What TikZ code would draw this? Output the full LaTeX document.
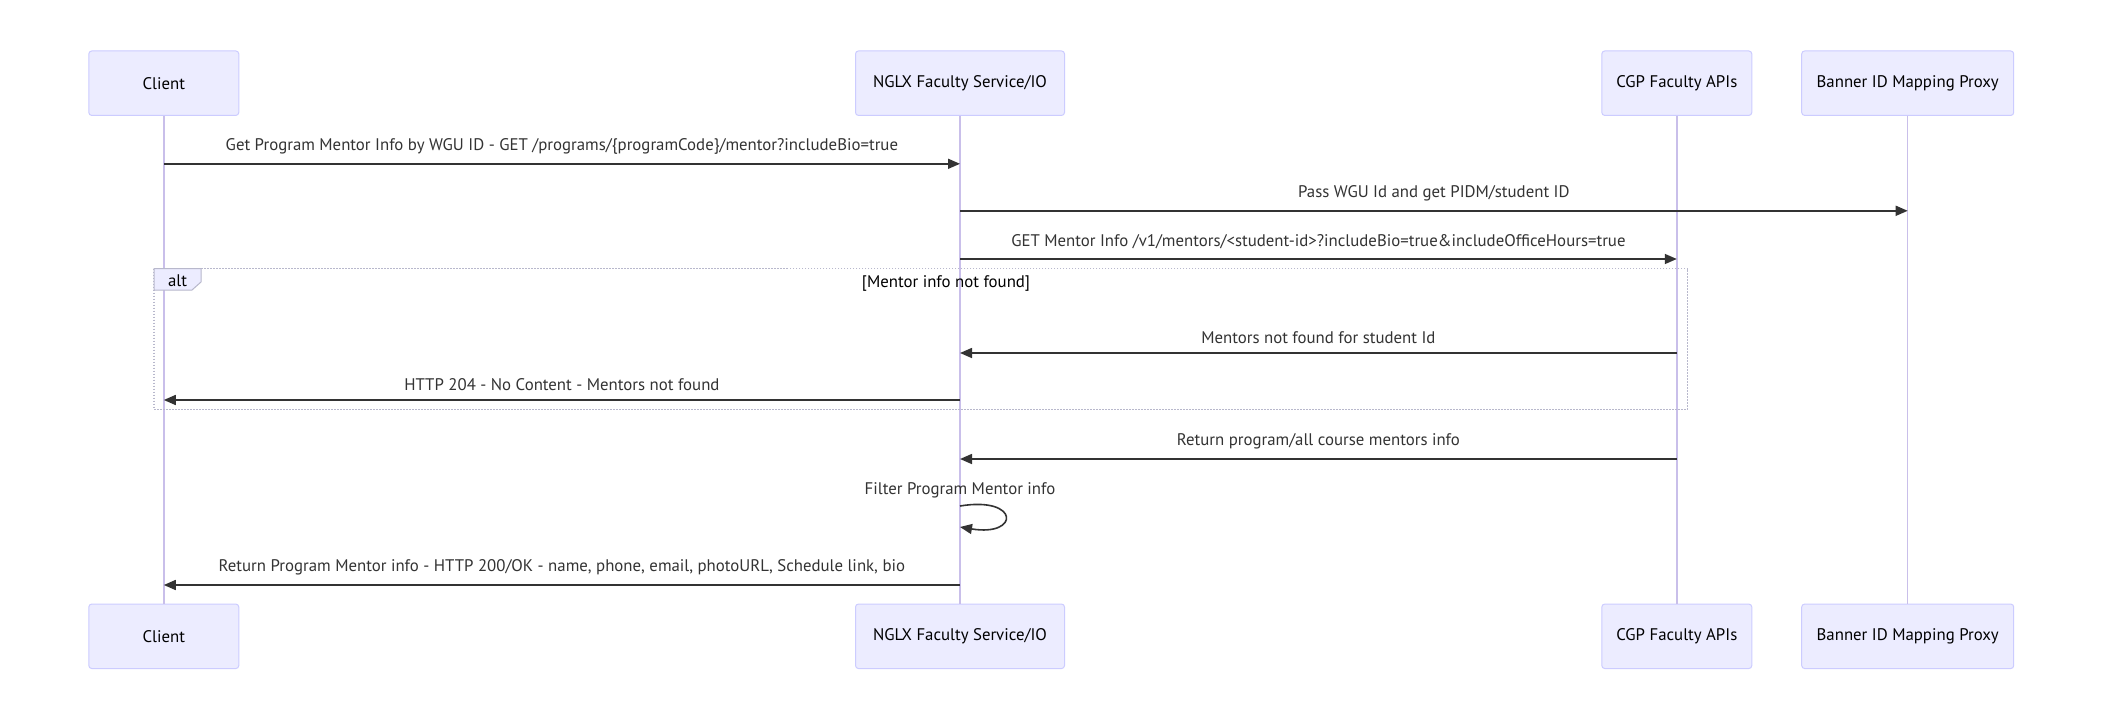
\documentclass[tikz,border=0pt]{standalone}
\usepackage{fontspec}
\setmainfont{PT Sans}
\usetikzlibrary{arrows.meta}
\definecolor{actfill}{HTML}{ECECFF}
\definecolor{actline}{HTML}{CCCCFF}
\definecolor{lifeline}{HTML}{C9BFEA}
\definecolor{sig}{HTML}{333333}
\definecolor{altline}{HTML}{B8B8CC}
\tikzset{
  actor/.style={draw=actline, fill=actfill, line width=1pt, rounded corners=3pt,
    minimum height=64.5pt, inner sep=0pt, text=black, font=\fontsize{16.8}{19}\selectfont},
  life/.style={draw=lifeline, line width=1.4pt},
  msg/.style={draw=sig, line width=1.6pt, -{Triangle[length=12pt,width=10pt]}},
  lbl/.style={text=sig, font=\fontsize{16.8}{19}\selectfont, inner sep=0pt},
}
\begin{document}
\begin{tikzpicture}[x=1pt,y=-1pt]
\useasboundingbox (0,0) rectangle (2105,720);
\fill[white] (0,0) rectangle (2105,720);
% actors top
\node[actor, minimum width=150pt] (c1) at (163.8,83.2) {Client};
\node[actor, minimum width=209pt] (n1) at (960,83.2) {NGLX Faculty Service/IO};
\node[actor, minimum width=150pt] (g1) at (1676.8,83.2) {CGP Faculty APIs};
\node[actor, minimum width=212pt] (b1) at (1907.7,83.2) {Banner ID Mapping Proxy};
% actors bottom
\node[actor, minimum width=150pt] (c2) at (163.8,636.3) {Client};
\node[actor, minimum width=209pt] (n2) at (960,636.3) {NGLX Faculty Service/IO};
\node[actor, minimum width=150pt] (g2) at (1676.8,636.3) {CGP Faculty APIs};
\node[actor, minimum width=212pt] (b2) at (1907.7,636.3) {Banner ID Mapping Proxy};
% lifelines
\draw[life] (c1.south) -- (c2.north);
\draw[life] (n1.south) -- (n2.north);
\draw[life] (g1.south) -- (g2.north);
\draw[life] (b1.south) -- (b2.north);
% alt frame
\draw[altline, line width=1.6pt, dash pattern=on 1.5pt off 1.5pt] (154,268.5) rectangle (1687.5,409.5);
\draw[altline, fill=actfill, line width=1pt] (154,268.5) -- (201,268.5) -- (201,282) -- (192,290) -- (154,290) -- cycle;
\node[lbl, text=black] (altlbl) at (177.5,280.5) {alt};
\node[lbl, text=black] (cond) at (946,283) {[Mentor info not found]};
% y levels
\coordinate (y1) at (0,163.8);
\coordinate (y2) at (0,210.8);
\coordinate (y3) at (0,259);
\coordinate (y4) at (0,353);
\coordinate (y5) at (0,400);
\coordinate (y6) at (0,459);
\coordinate (y7) at (0,585);
% messages
\draw[msg] (c1 |- y1) -- node[lbl, above=9pt] {Get Program Mentor Info by WGU ID - GET /programs/\{programCode\}/mentor?includeBio=true} (n1 |- y1);
\draw[msg] (n1 |- y2) -- node[lbl, above=9pt] {Pass WGU Id and get PIDM/student ID} (b1 |- y2);
\draw[msg] (n1 |- y3) -- node[lbl, above=9pt] {GET Mentor Info /v1/mentors/<student-id>?includeBio=true\&includeOfficeHours=true} (g1 |- y3);
\draw[msg] (g1 |- y4) -- node[lbl, above=9pt] {Mentors not found for student Id} (n1 |- y4);
\draw[msg] (n1 |- y5) -- node[lbl, above=9pt] {HTTP 204 - No Content - Mentors not found} (c1 |- y5);
\draw[msg] (g1 |- y6) -- node[lbl, above=9pt] {Return program/all course mentors info} (n1 |- y6);
% self message
\coordinate (s1) at (960,506);
\coordinate (s2) at (960,527);
\node[lbl] (selflbl) at (960,490) {Filter Program Mentor info};
\draw[msg] (s1) .. controls (1020,496) and (1020,537) .. (s2);
\draw[msg] (n1 |- y7) -- node[lbl, above=9pt] {Return Program Mentor info - HTTP 200/OK - name, phone, email, photoURL, Schedule link, bio} (c1 |- y7);
\end{tikzpicture}
\end{document}
